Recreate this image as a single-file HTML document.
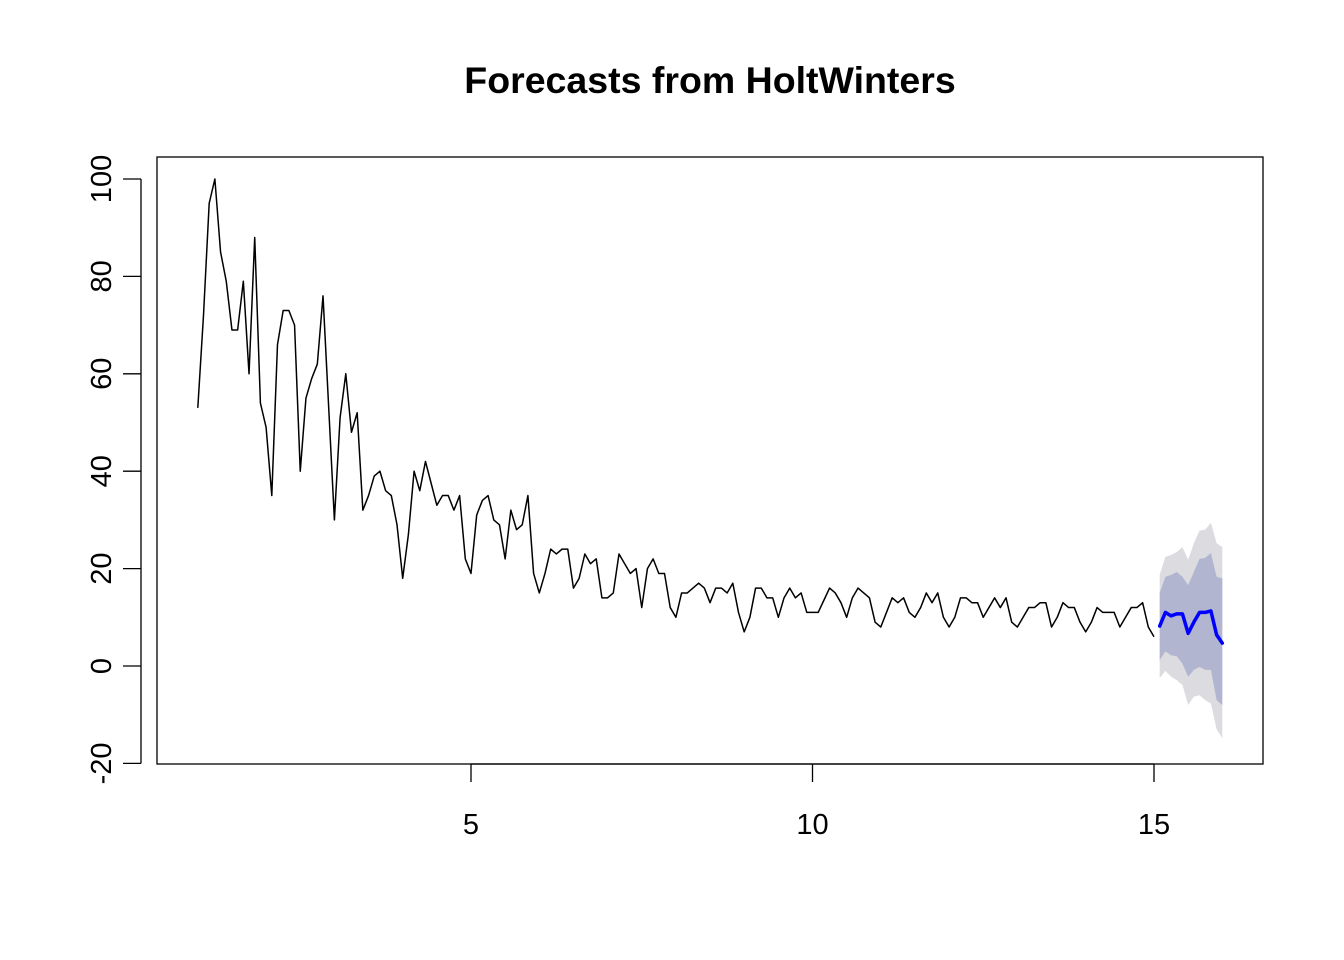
<!DOCTYPE html>
<html><head><meta charset="utf-8"><style>
html,body{margin:0;padding:0;background:#fff;}
svg{display:block;font-family:"Liberation Sans",Arial,sans-serif;}
</style></head><body>
<svg id="chart" width="1344" height="960" viewBox="0 0 1344 960" xmlns="http://www.w3.org/2000/svg">
<rect x="0" y="0" width="1344" height="960" fill="#fff"/>
<text x="710" y="93" text-anchor="middle" font-size="37.5" font-weight="bold">Forecasts from HoltWinters</text>
<g id="bands"></g>
<g id="series"></g>
<rect x="157" y="157" width="1106" height="607" fill="none" stroke="#000" stroke-width="1.3"/>
<g id="axes"></g>
</svg>
<script>
const observed = [53,72,95,100,85,79,69,69,79,60,88,54,
49,35,66,73,73,70,40,55,59,62,76,53,
30,51,60,48,52,32,35,39,40,36,35,29,
18,27,40,36,42,37.5,33,35,35,32,35,22,
19,31,34,35,30,29,22,32,28,29,35,19,
15,19,24,23,24,24,16,18,23,21,22,14,
14,15,23,21,19,20,12,20,22,19,19,12,
10,15,15,16,17,16,13,16,16,15,17,11,
7,10,16,16,14,14,10,14,16,14,15,11,
11,11,13.5,16,15,13,10,14,16,15,14,9,
8,11,14,13,14,11,10,12,15,13,15,10,
8,10,14,14,13,13,10,12,14,12,14,9,
8,10,12,12,13,13,8,10,13,12,12,9,
7,9,12,11,11,11,8,10,12,12,13,8,
6];
const forecast = [8.2,11,10.3,10.7,10.7,6.7,9,11,11,11.3,6.4,4.7];
const hi80 = [15,18.3,18.7,19.3,18.3,16.6,19.3,22,22.2,23.2,18.3,18];
const lo80 = [1.2,3,2.2,2,0.5,-2.2,-0.8,-0.2,-0.8,-0.8,-7,-8];
const hi95 = [18.7,22.4,22.8,23.4,24.4,21.8,25.2,27.8,28,29.4,25.2,24.4];
const lo95 = [-2.5,-1,-2.2,-2.9,-3.9,-8,-6.3,-6,-7,-7.7,-13,-14.8];
const xTicks = [5,10,15];
const yTicks = [-20,0,20,40,60,80,100];

const NS = "http://www.w3.org/2000/svg";
const xs = t => 471 + (t - 5) * (1154 - 471) / 10;
const ys = v => 666 - v * (666 - 179) / 100;
function mk(tag, attrs, parent){const e=document.createElementNS(NS,tag);for(const k in attrs)e.setAttribute(k,attrs[k]);parent.appendChild(e);return e;}

const bands = document.getElementById('bands');
const series = document.getElementById('series');
const axes = document.getElementById('axes');
const fx = forecast.map((_, i) => 15 + (i + 1) / 12);

function band(hi, lo, color, name){
  let pts = fx.map((t,i)=>xs(t)+','+ys(hi[i]));
  for(let i=fx.length-1;i>=0;i--) pts.push(xs(fx[i])+','+ys(lo[i]));
  const p = mk('polygon',{points:pts.join(' '),fill:color},bands);
  
  
}
band(hi95, lo95, '#dbdbe0', 'interval-95');
band(hi80, lo80, '#b1b5d0', 'interval-80');

const obsPts = observed.map((v,i)=>xs(1 + i/12)+','+ys(v)).join(' ');
const obs = mk('polyline',{points:obsPts,fill:'none',stroke:'#000','stroke-width':1.5,'stroke-linejoin':'round'},series);



const fPts = forecast.map((v,i)=>xs(fx[i])+','+ys(v)).join(' ');
const fl = mk('polyline',{points:fPts,fill:'none',stroke:'#0000ff','stroke-width':3.5,'stroke-linejoin':'round','stroke-linecap':'round'},series);



const xa = mk('line',{x1:xs(xTicks[0]),x2:xs(xTicks[xTicks.length-1]),y1:764,y2:764,stroke:'#000','stroke-width':1.3},axes);


xTicks.forEach(t=>{
  const l = mk('line',{x1:xs(t),x2:xs(t),y1:764,y2:782,stroke:'#000','stroke-width':1.3},axes);
  
  
  const tx = mk('text',{x:xs(t),y:834,'text-anchor':'middle','font-size':29},axes);
  tx.textContent = t;
  
  
});
const ya = mk('line',{x1:141,x2:141,y1:ys(yTicks[0]),y2:ys(yTicks[yTicks.length-1]),stroke:'#000','stroke-width':1.3},axes);


yTicks.forEach(v=>{
  const y = ys(v);
  const l = mk('line',{x1:123,x2:141,y1:y,y2:y,stroke:'#000','stroke-width':1.3},axes);
  
  
  const tx = mk('text',{x:0,y:0,'text-anchor':'middle','font-size':29,transform:'translate(111,'+y+') rotate(-90)'},axes);
  tx.textContent = v;
  
  
});
</script>
</body></html>
